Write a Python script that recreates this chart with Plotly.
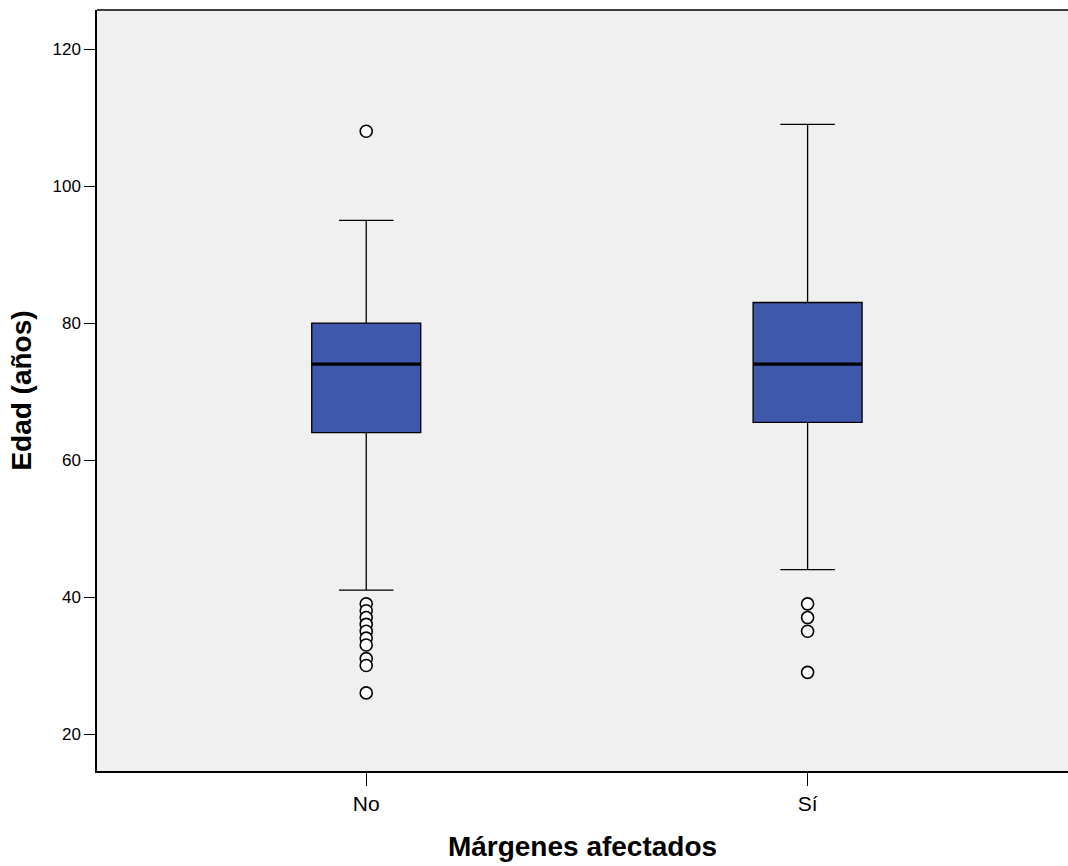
import plotly.graph_objects as go

categories = ["No", "Sí"]
q1 = [64, 65.5]
median = [74, 74]
q3 = [80, 83]
lower_whisker = [41, 44]
upper_whisker = [95, 109]
outliers_no = [108, 39, 38, 37, 36, 35, 34, 33, 31, 30, 26]
outliers_si = [39, 37, 35, 29]
outliers = [outliers_no, outliers_si]
y_ticks = [20, 40, 60, 80, 100, 120]

box_fill = "#3F58AC"
bg = "#F0F0F0"
box_w = 0.247

fig = go.Figure()
xs = list(range(len(categories)))
fig.add_trace(go.Box(
    x=xs, q1=q1, median=median, q3=q3,
    lowerfence=lower_whisker, upperfence=upper_whisker,
    fillcolor=box_fill, line=dict(color="black", width=1.3),
    width=box_w, whiskerwidth=0.5, boxpoints=False, showlegend=False,
    hoverinfo="skip",
))
for i, m in enumerate(median):
    fig.add_trace(go.Scatter(
        x=[i - box_w / 2, i + box_w / 2], y=[m, m], mode="lines",
        line=dict(color="black", width=3.2), showlegend=False, hoverinfo="skip",
    ))
for i, pts in enumerate(outliers):
    fig.add_trace(go.Scatter(
        x=[i] * len(pts), y=pts, mode="markers",
        marker=dict(symbol="circle", size=12, color="white",
                    line=dict(color="black", width=1.6)),
        showlegend=False, hoverinfo="skip",
    ))

fig.update_layout(
    width=1068, height=866,
    margin=dict(l=97, r=0, t=10, b=95),
    paper_bgcolor="white", plot_bgcolor=bg,
    font=dict(family="Liberation Sans, Arial, sans-serif", color="black", size=17),
    xaxis=dict(
        range=[-0.61, 1.59], tickmode="array", tickvals=xs, ticktext=categories,
        tickfont=dict(size=21),
        showgrid=False, zeroline=False, showline=True, linecolor="black", linewidth=1.5,
        ticks="outside", ticklen=13, tickcolor="black", tickwidth=1.3,
        title=dict(text="<b>Márgenes afectados</b>", font=dict(size=28), standoff=22),
    ),
    yaxis=dict(
        range=[14.6, 125.7], tickvals=y_ticks,
        showgrid=False, zeroline=False, showline=True, linecolor="black", linewidth=1.5,
        ticks="outside", ticklen=11, tickcolor="black", tickwidth=1.3,
        title=dict(text="<b>Edad (años)</b>", font=dict(size=28), standoff=13),
    ),
    shapes=[dict(type="line", xref="paper", yref="paper", x0=0, x1=1.02, y0=1, y1=1,
                 line=dict(color="black", width=1.5))],
)

fig.write_html(
    "out.html",
    config={"displayModeBar": False},
    post_script="document.body.style.margin='0';document.body.style.overflow='hidden';",
)
